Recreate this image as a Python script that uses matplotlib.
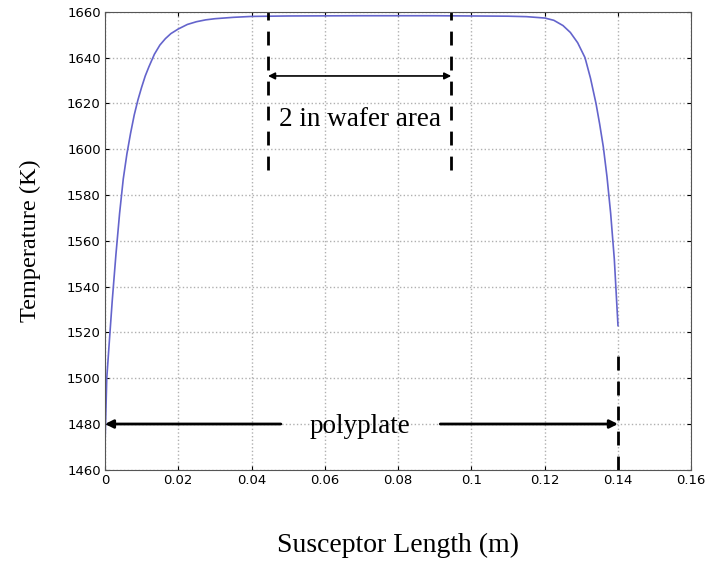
import matplotlib.pyplot as plt

# temperature profile along the susceptor
length_m = [0, 0.0005, 0.0012, 0.002, 0.003, 0.004, 0.005, 0.006, 0.007, 0.008,
            0.009, 0.010, 0.011, 0.012, 0.0135, 0.015, 0.0165, 0.018, 0.02, 0.0225,
            0.025, 0.0275, 0.03, 0.035, 0.04, 0.05, 0.07, 0.09, 0.11, 0.115,
            0.12, 0.1225, 0.125, 0.127, 0.129, 0.131, 0.1325, 0.134, 0.135, 0.136,
            0.137, 0.138, 0.139, 0.14]
temp_k = [1470, 1500, 1516, 1534, 1554, 1572, 1587, 1598, 1607, 1615,
          1621.5, 1627, 1632, 1636, 1641.5, 1645.5, 1648.3, 1650.5, 1652.5, 1654.5,
          1655.7, 1656.5, 1657, 1657.6, 1658, 1658.2, 1658.3, 1658.3, 1658.1, 1657.9,
          1657.3, 1656.3, 1654, 1651, 1646.5, 1640, 1631, 1620, 1611, 1601,
          1588, 1572, 1552, 1523]

wafer_edges = [0.0445, 0.0945]
plate_end = 0.14
x_ticks = [0, 0.02, 0.04, 0.06, 0.08, 0.1, 0.12, 0.14, 0.16]
x_ticklabels = ['0', '0.02', '0.04', '0.06', '0.08', '0.1', '0.12', '0.14', '0.16']
y_ticks = list(range(1460, 1661, 20))

fig = plt.figure(figsize=(7.09, 5.64), dpi=100)
ax = fig.add_axes([0.148, 0.167, 0.827, 0.812])

ax.plot(length_m, temp_k, color='#6464cc', lw=1.2)

ax.set_xlim(0, 0.16)
ax.set_ylim(1460, 1660)
ax.set_xticks(x_ticks)
ax.set_xticklabels(x_ticklabels)
ax.set_yticks(y_ticks)
ax.tick_params(direction='in', top=True, right=True, labelsize=9.5, length=3, pad=3)
ax.grid(True, color='#b0b0b0', linestyle=':', linewidth=1)
for s in ax.spines.values():
    s.set_color('#555555')

serif = 'Liberation Serif'
ax.set_xlabel('Susceptor Length (m)', family=serif, fontsize=20, labelpad=33)
ax.set_ylabel('Temperature (K)', family=serif, fontsize=17.5, labelpad=19)

# wafer area markers
for xe in wafer_edges:
    ax.plot([xe, xe], [1591, 1660], color='black', lw=2, dashes=(5, 4), clip_on=False)
ax.annotate('', xy=(wafer_edges[0], 1632), xytext=(wafer_edges[1], 1632),
            arrowprops=dict(arrowstyle='<|-|>', color='black', lw=1.2,
                            shrinkA=0, shrinkB=0, mutation_scale=10))
ax.text(sum(wafer_edges) / 2, 1613, '2 in wafer area', family=serif, fontsize=19.5,
        ha='center', va='center')

# polyplate markers
ax.plot([plate_end, plate_end], [1460, 1510], color='black', lw=2, dashes=(5, 4))
ax.annotate('', xy=(0, 1480), xytext=(0.048, 1480),
            arrowprops=dict(arrowstyle='-|>', color='black', lw=2,
                            shrinkA=0, shrinkB=0, mutation_scale=12))
ax.annotate('', xy=(plate_end, 1480), xytext=(0.0915, 1480),
            arrowprops=dict(arrowstyle='-|>', color='black', lw=2,
                            shrinkA=0, shrinkB=0, mutation_scale=12))
ax.text(0.0695, 1479, 'polyplate', family=serif, fontsize=19.5, ha='center', va='center')

plt.savefig('out.png', dpi=100)
